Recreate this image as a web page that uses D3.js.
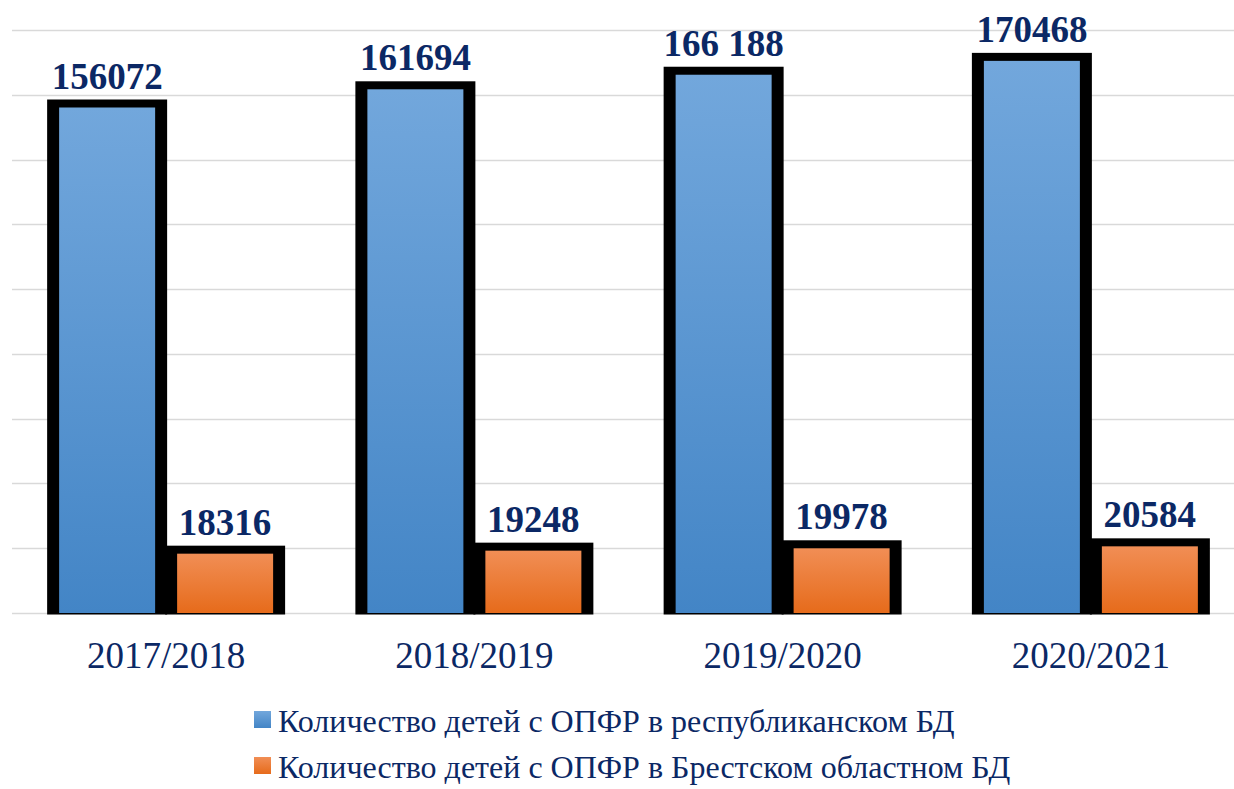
<!DOCTYPE html>
<html>
<head>
<meta charset="utf-8">
<script src="https://cdn.jsdelivr.net/npm/d3@7"></script>
<style>
  body { margin: 0; background: #fff; }
  svg { display: block; }
</style>
</head>
<body>
<div id="chart"></div>
<script>
"use strict"

// chart data
const years = ["2017/2018", "2018/2019", "2019/2020", "2020/2021"];
const seriesNames = [
  "Количество детей с ОПФР в республиканском БД",
  "Количество детей с ОПФР в Брестском областном БД"
];
const republican = [156072, 161694, 166188, 170468];
const brest = [18316, 19248, 19978, 20584];
const republicanLabels = ["156072", "161694", "166 188", "170468"];
const brestLabels = ["18316", "19248", "19978", "20584"];
const yTicks = [0, 20000, 40000, 60000, 80000, 100000, 120000, 140000, 160000, 180000];

const FONT = "Liberation Serif";
const TEXT_COLOR = "#0b2865";

const totalWidth = 1234, totalHeight = 789;
const margin = { left: 12, right: -11, top: 30, bottom: 176 };
const width = totalWidth - margin.left - margin.right;
const height = totalHeight - margin.top - margin.bottom;

const svg = d3.select("#chart").append("svg")
  .attr("width", totalWidth)
  .attr("height", totalHeight);

const defs = svg.append("defs");
function grad(id, top, bottom) {
  const g = defs.append("linearGradient").attr("id", id)
    .attr("x1", 0).attr("y1", 0).attr("x2", 0).attr("y2", 1);
  g.append("stop").attr("offset", "0%").attr("stop-color", top);
  g.append("stop").attr("offset", "100%").attr("stop-color", bottom);
}
grad("gBlue", "#72a7dc", "#4385c6");
grad("gOrange", "#f18e55", "#e66b1b");

const colors = ["url(#gBlue)", "url(#gOrange)"];

const pad = 0.3058;
const x0 = d3.scaleBand().domain(years).range([0, width]).paddingInner(pad).paddingOuter(pad / 2);
const x1 = d3.scaleBand().domain([0, 1]).range([0, x0.bandwidth()]).paddingInner(0.1864);
const y = d3.scaleLinear().domain([0, 180000]).range([height, 0]);

const g = svg.append("g").attr("transform", `translate(${margin.left},${margin.top})`);

// gridlines
g.append("g").selectAll("line")
  .data(yTicks)
  .enter().append("line")
    .attr("x1", 0).attr("x2", totalWidth)
    .attr("y1", d => Math.round(y(d)) + 0.5)
    .attr("y2", d => Math.round(y(d)) + 0.5)
    .attr("stroke", "#d9d9d9")
    .attr("stroke-width", 1.5);

const rows = years.map((yr, i) => ({
  year: yr,
  vals: [
    { s: 0, v: republican[i], t: republicanLabels[i] },
    { s: 1, v: brest[i], t: brestLabels[i] }
  ]
}));

const groups = g.selectAll(".grp")
  .data(rows)
  .enter().append("g")
    .attr("class", "grp")
    .attr("transform", d => `translate(${x0(d.year)},0)`);

// thick black borders
groups.selectAll(".border")
  .data(d => d.vals)
  .enter().append("rect")
    .attr("x", d => x1(d.s) - 12)
    .attr("y", d => y(d.v) - 8)
    .attr("width", x1.bandwidth() + 24)
    .attr("height", d => height - y(d.v) + 9.5)
    .attr("fill", "#000");

groups.selectAll(".bar")
  .data(d => d.vals)
  .enter().append("rect")
    .attr("x", d => x1(d.s))
    .attr("y", d => y(d.v))
    .attr("width", x1.bandwidth())
    .attr("height", d => height - y(d.v))
    .attr("fill", d => colors[d.s]);

groups.selectAll(".val")
  .data(d => d.vals)
  .enter().append("text")
    .attr("x", d => x1(d.s) + x1.bandwidth() / 2)
    .attr("y", d => y(d.v) - 19)
    .attr("text-anchor", "middle")
    .attr("font-family", FONT)
    .attr("font-size", 37)
    .attr("font-weight", "bold")
    .attr("fill", TEXT_COLOR)
    .text(d => d.t);

// category axis labels
g.append("g").selectAll("text")
  .data(years)
  .enter().append("text")
    .attr("x", d => x0(d) + x0.bandwidth() / 2)
    .attr("y", height + 55)
    .attr("text-anchor", "middle")
    .attr("font-family", FONT)
    .attr("font-size", 37)
    .attr("fill", TEXT_COLOR)
    .text(d => d);

// legend
const legend = svg.append("g").attr("transform", "translate(254,0)");
const legItems = legend.selectAll("g")
  .data(seriesNames)
  .enter().append("g")
    .attr("transform", (d, i) => `translate(0,${732 + i * 46})`);
legItems.append("rect")
  .attr("x", 0).attr("y", -21)
  .attr("width", 17).attr("height", 17)
  .attr("fill", (d, i) => colors[i]);
legItems.append("text")
  .attr("x", 24)
  .attr("y", 0)
  .attr("font-family", FONT)
  .attr("font-size", 32)
  .attr("fill", TEXT_COLOR)
  .text(d => d);
</script>
</body>
</html>
